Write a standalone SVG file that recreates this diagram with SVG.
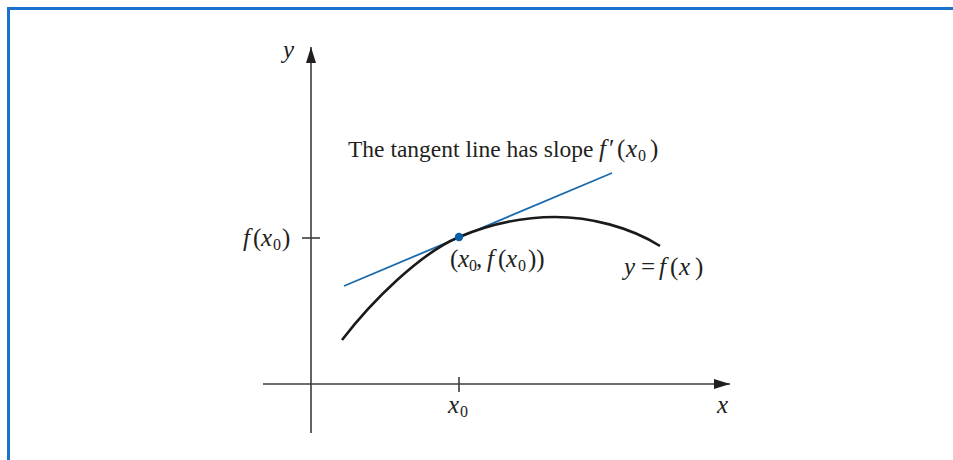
<svg xmlns="http://www.w3.org/2000/svg" width="953" height="460" viewBox="0 0 953 460">
<style>
.t{font-family:"Liberation Serif","Times New Roman",serif;font-size:25px;fill:#231f20}
.m{font-size:23.5px}
.i{font-style:italic}
.s{font-size:16px}
.ax{stroke:#3d3d3d;stroke-width:1.6;fill:none}
</style>
<defs>
<marker id="ah" viewBox="0 0 16 10" refX="16" refY="5" markerWidth="16" markerHeight="10" markerUnits="userSpaceOnUse" orient="auto">
<path d="M0,0 L16,5 L0,10 Z" fill="#231f20"/>
</marker>
</defs>
<rect width="953" height="460" fill="#fff"/>
<path d="M8.5,460 V8.5 H953" fill="none" stroke="#1a72cc" stroke-width="3"/>
<g id="connectors">
<line id="y-axis" class="ax" x1="311" y1="433" x2="311" y2="47" marker-end="url(#ah)"/>
<line id="x-axis" class="ax" x1="263" y1="384" x2="730" y2="384" marker-end="url(#ah)"/>
<line class="ax" x1="459" y1="377" x2="459" y2="392"/>
<line class="ax" x1="302" y1="238" x2="320" y2="238"/>
<line id="tangent" x1="344" y1="286" x2="612" y2="173" stroke="#1a6aad" stroke-width="1.8"/>
<path id="curve" d="M342,340 C372,301 420,253.5 459,237 C490,224 525,217 555,217 C590,217 630,227 660,246" fill="none" stroke="#1a1a1a" stroke-width="2.6"/>
</g>
<g id="point"><circle cx="459" cy="237" r="4.2" fill="#0d5ea8"/></g>
<g id="label-y"><text class="t i" x="283" y="58">y</text></g>
<g id="label-x"><text class="t i" x="717" y="413">x</text></g>
<g id="label-x0"><text class="t" y="413"><tspan class="i" x="448">x</tspan><tspan class="s" x="460" dy="4">0</tspan></text></g>
<g id="label-fx0"><text class="t" y="246"><tspan class="i" x="243">f</tspan><tspan x="253">(</tspan><tspan class="i" x="261">x</tspan><tspan class="s" x="273" dy="4">0</tspan><tspan x="282" dy="-4">)</tspan></text></g>
<g id="label-point"><text class="t" y="267"><tspan x="450">(</tspan><tspan class="i" x="458">x</tspan><tspan class="s" x="469" dy="4">0</tspan><tspan x="476" dy="-4">,</tspan><tspan class="i" x="487">f</tspan><tspan x="498">(</tspan><tspan class="i" x="506">x</tspan><tspan class="s" x="518" dy="4">0</tspan><tspan x="528" dy="-4">))</tspan></text></g>
<g id="label-curve"><text class="t" y="275"><tspan class="i" x="624">y</tspan><tspan x="641">=</tspan><tspan class="i" x="659">f</tspan><tspan x="670">(</tspan><tspan class="i" x="679">x</tspan><tspan x="695">)</tspan></text></g>
<g id="label-tangent"><text class="t" y="157"><tspan class="m" x="348">The tangent line has slope</tspan><tspan class="i" x="599">f</tspan><tspan x="609">′</tspan><tspan x="617">(</tspan><tspan class="i" x="626">x</tspan><tspan class="s" x="638" dy="4">0</tspan><tspan x="650" dy="-4">)</tspan></text></g>
</svg>
